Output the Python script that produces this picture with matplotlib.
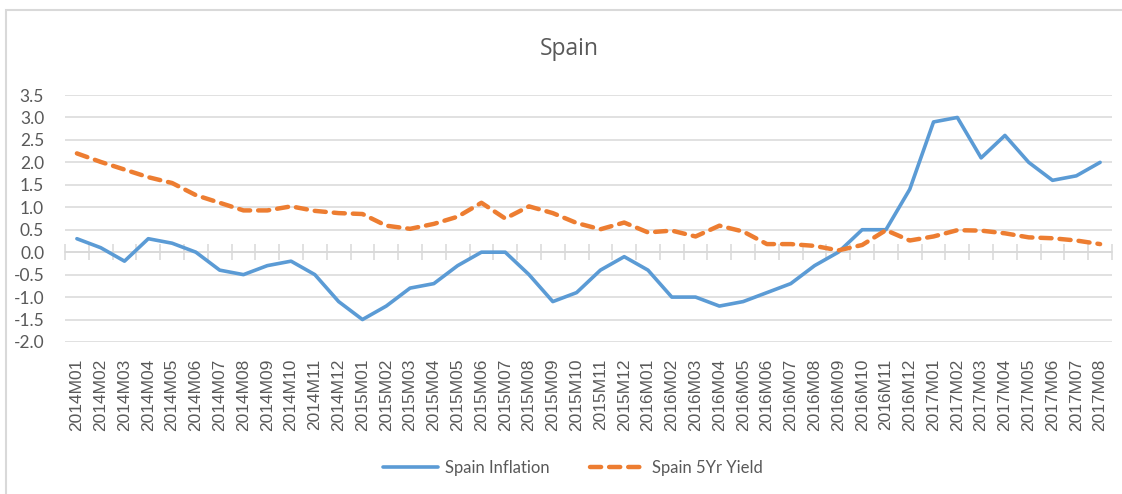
import matplotlib
matplotlib.use('Agg')
import matplotlib.pyplot as plt
from matplotlib.patches import Rectangle
import numpy as np

# Data
months = ['2014M01', '2014M02', '2014M03', '2014M04', '2014M05', '2014M06',
          '2014M07', '2014M08', '2014M09', '2014M10', '2014M11', '2014M12',
          '2015M01', '2015M02', '2015M03', '2015M04', '2015M05', '2015M06',
          '2015M07', '2015M08', '2015M09', '2015M10', '2015M11', '2015M12',
          '2016M01', '2016M02', '2016M03', '2016M04', '2016M05', '2016M06',
          '2016M07', '2016M08', '2016M09', '2016M10', '2016M11', '2016M12',
          '2017M01', '2017M02', '2017M03', '2017M04', '2017M05', '2017M06',
          '2017M07', '2017M08']
inflation = [0.3, 0.1, -0.2, 0.3, 0.2, 0.0, -0.4, -0.5, -0.3, -0.2, -0.5, -1.1,
             -1.5, -1.2, -0.8, -0.7, -0.3, 0.0, 0.0, -0.5, -1.1, -0.9, -0.4, -0.1,
             -0.4, -1.0, -1.0, -1.2, -1.1, -0.9, -0.7, -0.3, 0.0, 0.5, 0.5, 1.4,
             2.9, 3.0, 2.1, 2.6, 2.0, 1.6, 1.7, 2.0]
yield_5yr = [2.2, 2.01, 1.84, 1.67, 1.54, 1.27, 1.1, 0.93, 0.93, 1.02, 0.92, 0.87,
             0.85, 0.59, 0.52, 0.63, 0.79, 1.1, 0.75, 1.02, 0.87, 0.65, 0.51, 0.66,
             0.44, 0.48, 0.35, 0.59, 0.46, 0.18, 0.18, 0.14, 0.04, 0.16, 0.49, 0.26,
             0.35, 0.49, 0.48, 0.42, 0.33, 0.31, 0.26, 0.18]
y_ticks = [-2.0, -1.5, -1.0, -0.5, 0.0, 0.5, 1.0, 1.5, 2.0, 2.5, 3.0, 3.5]

blue = '#5B9BD5'
orange = '#ED7D31'
grid_col = '#D9D9D9'
text_col = '#595959'

fig = plt.figure(figsize=(11.22, 4.94), dpi=100)
ax = fig.add_axes([65 / 1122, 1 - 342 / 494, 1047 / 1122, 247 / 494])

x = np.arange(len(months))
ax.plot(x, inflation, color=blue, lw=2.6, solid_capstyle='round',
        solid_joinstyle='round', label='Spain Inflation', zorder=3)
ax.plot(x, yield_5yr, color=orange, lw=3.2, linestyle=(0, (2.5, 1.8)),
        dash_capstyle='round', dash_joinstyle='round', label='Spain 5Yr Yield', zorder=3)

ax.set_xlim(-0.5, len(months) - 0.5)
ax.set_ylim(-2.0, 3.5)
ax.set_yticks(y_ticks)
ax.set_yticklabels([f'{v:.1f}' for v in y_ticks], fontsize=12.5, color=text_col,
                   family='Lato')
ax.yaxis.grid(True, color=grid_col, lw=1.1)
ax.set_axisbelow(True)
ax.tick_params(axis='y', length=0, pad=15)

for s in ['left', 'top', 'right']:
    ax.spines[s].set_visible(False)
ax.spines['bottom'].set_position(('data', 0))
ax.spines['bottom'].set_color(grid_col)
ax.spines['bottom'].set_linewidth(1.1)

# category boundary ticks crossing the zero line
ax.set_xticks(np.arange(len(months) + 1) - 0.5)
ax.set_xticklabels([])
ax.tick_params(axis='x', direction='inout', length=11, width=1.1, color=grid_col)

# category labels at the bottom of the plot area
sec = ax.secondary_xaxis(0)
sec.set_xticks(x)
sec.set_xticklabels(months, rotation=90, fontsize=12.5, color=text_col,
                    family='Liberation Sans')
sec.tick_params(length=0, pad=12)
sec.spines['bottom'].set_visible(False)

fig.text(569 / 1122, 1 - 49 / 494, 'Spain', ha='center', va='center',
         fontsize=16.5, color=text_col, family='Open Sans')

fig.legend(loc='center', bbox_to_anchor=(573 / 1122, 1 - 468 / 494), ncol=2,
           frameon=False, handlelength=3.3, columnspacing=2.4,
           handletextpad=0.45, labelcolor=text_col, prop={'family': 'Lato', 'size': 12})

# outer chart border
fig.patches.append(Rectangle((6 / 1122, -0.1), 1.2, 1 - 10 / 494 + 0.1,
                             transform=fig.transFigure, fill=False,
                             edgecolor=grid_col, lw=1.5))

fig.savefig('out.png', dpi=100, facecolor='white')
